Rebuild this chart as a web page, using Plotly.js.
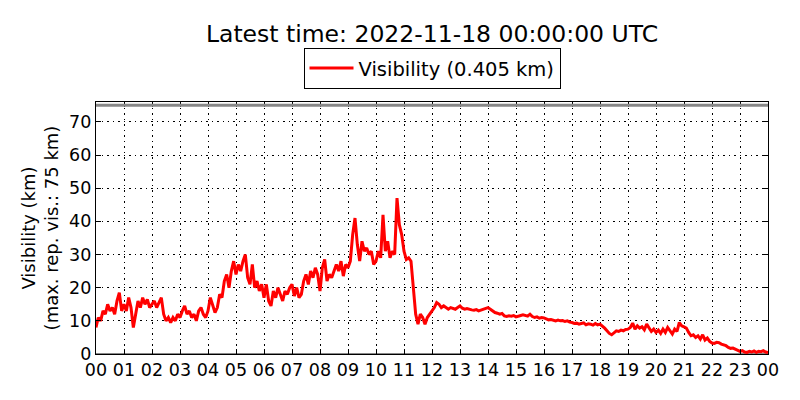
<!DOCTYPE html>
<html>
<head>
<meta charset="utf-8">
<script src="https://cdn.plot.ly/plotly-3.0.1.min.js"></script>
<style>
  html, body { margin: 0; padding: 0; background: #fff; }
  #chart { width: 800px; height: 400px; }
</style>
</head>
<body>
<div id="chart"></div>
<script>
/* visibility, one reading every 5 minutes, 2022-11-17 00:00 -> 2022-11-18 00:00 UTC */
var DAY = "2022-11-17";
var END_DAY = "2022-11-18";
var STEP_MIN = 5;
var MAX_VIS = 75;   // max. reported visibility (km)
var MIN_VIS = 0;
var LAST_VIS = 0.405;

var VIS_00 = [8, 11, 10, 13, 12, 15, 13, 14, 12, 16, 18.5, 13];
var VIS_01 = [15, 13, 17, 14, 8, 12, 16, 14, 17, 15, 16.5, 14];
var VIS_02 = [15, 16, 14, 15.5, 17, 12, 10, 11, 9.5, 11, 10, 12];
var VIS_03 = [11, 13, 14.5, 12, 13, 11, 12, 10, 13, 14, 12, 11];
var VIS_04 = [13, 17, 15, 12.5, 14, 18, 17, 22, 24, 20, 25, 28];
var VIS_05 = [24, 27, 25, 28, 30, 23, 21, 27, 20, 22, 19, 21];
var VIS_06 = [17, 21, 16, 14.5, 19, 17, 20, 18, 16, 19, 18, 20];
var VIS_07 = [21, 17.5, 20, 17, 18, 22, 24, 21, 25, 23, 26, 24];
var VIS_08 = [19, 26, 28.5, 22, 24, 23, 25, 27, 25, 28, 23.5, 27];
var VIS_09 = [26, 28, 36, 41, 33, 28, 34, 31, 32, 30, 31, 27];
var VIS_10 = [28, 31, 29, 42, 31, 34, 29, 31, 30, 47, 39, 36];
var VIS_11 = [31, 28.5, 29, 28, 20, 12, 9, 12, 11, 9, 11, 12];
var VIS_12 = [13, 14, 15.5, 15, 14, 14.5, 14, 13.5, 14, 13.8, 13.5, 14];
var VIS_13 = [14.5, 13.8, 13.5, 13.7, 13.4, 13.3, 13.2, 13.4, 13, 13.2, 13.5, 13.8];
var VIS_14 = [14, 13.5, 13, 12.5, 12.3, 12, 12.2, 11.5, 11.3, 11.5, 11.4, 11.6];
var VIS_15 = [11.2, 11.5, 11.6, 11.8, 11.5, 11.4, 12, 11.3, 11, 11.2, 10.8, 11];
var VIS_16 = [10.9, 10.5, 10.3, 10.4, 10.1, 10, 10.2, 10, 10.1, 9.8, 10, 9.6];
var VIS_17 = [9.5, 9.2, 9.3, 9, 9.2, 9.4, 8.8, 9.1, 9, 8.7, 9.2, 8.8];
var VIS_18 = [9, 8.5, 7.8, 7, 6.2, 5.8, 6.5, 7, 6.8, 7.2, 7, 7.4];
var VIS_19 = [7.5, 8, 9.3, 7.5, 8.5, 7.8, 8.2, 7.3, 9, 8, 6.8, 7.5];
var VIS_20 = [6.5, 7.2, 6.2, 7.5, 6.5, 8, 7, 6, 7.5, 6.8, 9.5, 8.5];
var VIS_21 = [8.2, 7.8, 6.5, 5.5, 5.8, 5, 5.5, 4.5, 5.8, 4.2, 4.8, 3.8];
var VIS_22 = [3.3, 3.2, 3.5, 3.4, 3, 2.8, 2.5, 2, 1.7, 1.8, 1.5, 1.2];
var VIS_23 = [0.8, 1, 0.6, 0.5, 0.8, 0.6, 0.9, 0.5, 0.8, 0.7, 1, 0.6];

var HOURS = [VIS_00, VIS_01, VIS_02, VIS_03, VIS_04, VIS_05, VIS_06, VIS_07,
             VIS_08, VIS_09, VIS_10, VIS_11, VIS_12, VIS_13, VIS_14, VIS_15,
             VIS_16, VIS_17, VIS_18, VIS_19, VIS_20, VIS_21, VIS_22, VIS_23];

function pad(n) { return (n < 10 ? "0" : "") + n; }

var xs = [], ys = [];
HOURS.forEach(function (vals, h) {
  vals.forEach(function (v, k) {
    xs.push(DAY + " " + pad(h) + ":" + pad(k * STEP_MIN));
    ys.push(v);
  });
});
xs.push(END_DAY + " 00:00");
ys.push(LAST_VIS);

var FONT = "DejaVu Sans, sans-serif";

var trace = {
  type: "scatter", mode: "lines",
  x: xs, y: ys,
  name: "Visibility (" + LAST_VIS.toFixed(3) + " km)",
  line: { color: "#ff0000", width: 3 },
  showlegend: true
};

var axisCommon = {
  showline: true, mirror: "ticks", linecolor: "#000", linewidth: 1.2,
  ticks: "inside", ticklen: 5, tickcolor: "#000", tickwidth: 1,
  showgrid: true, gridcolor: "#000", griddash: "1.5px,4px", gridwidth: 1,
  zeroline: false,
  tickfont: { family: FONT, size: 17.5, color: "#000" }
};

var layout = {
  width: 800, height: 400,
  paper_bgcolor: "#fff", plot_bgcolor: "#fff",
  font: { family: FONT, color: "#000" },
  margin: { l: 96, r: 32, t: 102, b: 46 },
  title: {
    text: "Latest time: " + END_DAY + " 00:00:00 UTC",
    font: { family: FONT, size: 23.5, color: "#000" },
    x: 0.5, xref: "paper", xanchor: "center",
    y: 0.915, yref: "container", yanchor: "middle"
  },
  showlegend: true,
  legend: {
    x: 0.5, xanchor: "center", y: 1.052, yanchor: "bottom",
    orientation: "h", itemwidth: 44,
    bordercolor: "#000", borderwidth: 1, bgcolor: "#fff",
    font: { family: FONT, size: 19.5, color: "#000" }
  },
  xaxis: Object.assign({}, axisCommon, {
    type: "date",
    range: [DAY + " 00:00", END_DAY + " 00:00"],
    dtick: 3600000, tick0: DAY + " 00:00",
    tickformat: "%H"
  }),
  yaxis: Object.assign({}, axisCommon, {
    range: [MIN_VIS, 76], dtick: 10, tick0: 0,
    title: {
      text: "Visibility (km)<br>(max. rep. vis.: " + MAX_VIS + " km)",
      font: { family: FONT, size: 18, color: "#000" },
      standoff: 5
    }
  }),
  shapes: [
    { type: "line", xref: "paper", x0: 0, x1: 1, yref: "y", y0: MAX_VIS, y1: MAX_VIS,
      line: { color: "#888", width: 3 }, layer: "above" },
    { type: "line", xref: "paper", x0: 0, x1: 1, yref: "y", y0: MIN_VIS, y1: MIN_VIS,
      line: { color: "#888", width: 2 }, layer: "below" }
  ]
};

Plotly.newPlot("chart", [trace], layout, { displayModeBar: false, staticPlot: true });
</script>
</body>
</html>
